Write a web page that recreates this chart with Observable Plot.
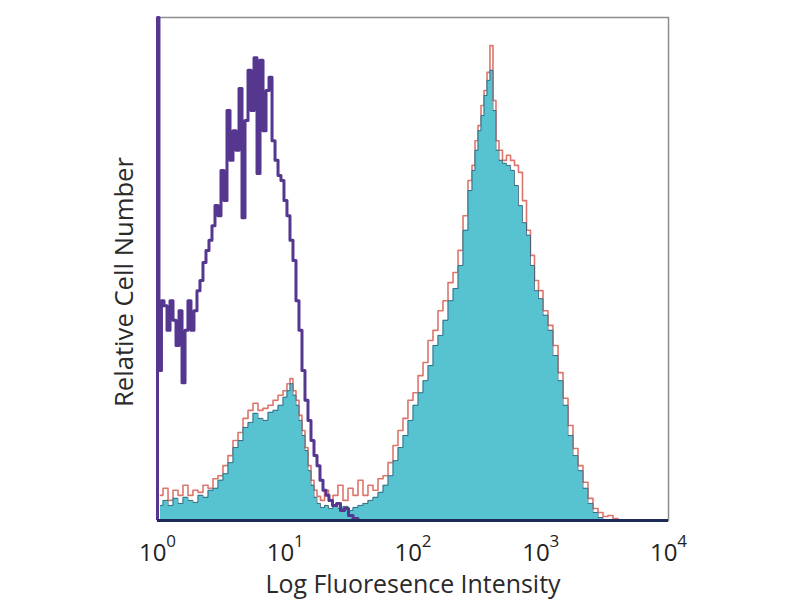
<!DOCTYPE html>
<html>
<head>
<meta charset="utf-8">
<script src="https://cdn.jsdelivr.net/npm/d3@7"></script>
<script src="https://cdn.jsdelivr.net/npm/@observablehq/plot@0.6"></script>
<style>
  html, body { margin: 0; padding: 0; background: #fff; }
  #chart { width: 800px; height: 600px; }
</style>
</head>
<body>
<div id="chart"></div>
<script>
// x values are log10 fluorescence (decades), y values relative cell number (0-100)
const decadeTicks = [0, 1, 2, 3, 4];
const xTitle = "Log Fluoresence Intensity";
const yTitle = "Relative Cell Number";

// Isotype control (purple outline)
const controlX = [0.000,0.023,0.039,0.063,0.086,0.110,0.133,0.157,0.180,0.204,0.227,0.250,0.274,0.297,0.321,0.344,0.368,0.391,0.415,0.438,0.462,0.485,0.509,0.532,0.556,0.579,0.603,0.626,0.650,0.673,0.697,0.720,0.744,0.767,0.791,0.814,0.838,0.861,0.885,0.908,0.932,0.955,0.978,1.002,1.025,1.049,1.072,1.096,1.119,1.143,1.166,1.190,1.213,1.237,1.260,1.284,1.307,1.331,1.354,1.386,1.417,1.448,1.479,1.511,1.550,1.589];
const controlY = [100,29.8,43.7,42.7,37.8,43.7,39.8,34.8,41.7,27.4,37.8,43.7,37.8,41.7,45.7,47.7,51.3,53.7,55.7,58.6,62.6,60.6,69.6,63.6,81.5,71.6,77.5,73.6,85.9,60.2,79.5,89.5,81.5,92.0,69.0,91.5,77.5,85.5,88.1,75.5,71.6,68.6,67.6,63.6,60.6,55.7,51.7,43.7,37.8,29.8,23.9,19.9,15.9,12.9,10.9,8.0,6.0,5.0,4.0,3.0,3.4,2.0,2.4,1.0,0.4,0];

// Stained samples (shared channels): teal filled and red outline
const stainX = [0.023,0.063,0.102,0.141,0.180,0.219,0.258,0.297,0.337,0.376,0.415,0.454,0.493,0.532,0.571,0.611,0.650,0.689,0.728,0.767,0.806,0.845,0.885,0.924,0.963,1.002,1.025,1.049,1.072,1.096,1.119,1.143,1.166,1.190,1.213,1.237,1.260,1.292,1.323,1.354,1.393,1.432,1.472,1.511,1.550,1.589,1.628,1.667,1.706,1.746,1.785,1.824,1.863,1.902,1.941,1.980,2.020,2.059,2.098,2.137,2.176,2.215,2.254,2.294,2.333,2.372,2.411,2.450,2.474,2.497,2.521,2.544,2.568,2.591,2.614,2.638,2.661,2.685,2.716,2.748,2.779,2.810,2.841,2.873,2.904,2.935,2.967,2.998,3.037,3.076,3.115,3.155,3.194,3.233,3.272,3.311,3.350,3.389,3.429,3.468,3.507,3.546,3.585,3.624];
const tealY = [3.0,4.0,3.0,4.4,3.4,4.6,4.0,3.6,5.0,4.6,6.0,6.4,8.0,9.3,11.5,14.5,15.9,18.5,19.5,21.3,20.3,19.9,21.5,21.9,22.9,24.5,25.8,27.2,24.9,22.9,19.9,16.9,13.9,9.9,7.0,4.6,3.4,2.6,3.0,2.4,3.0,2.4,2.8,2.0,2.6,3.0,3.4,4.0,4.6,5.6,7.0,8.9,11.9,14.5,16.9,19.9,22.9,25.4,27.8,30.8,34.8,36.8,39.8,43.7,46.1,50.7,57.7,65.6,69.6,73.6,77.5,80.5,84.5,87.5,89.5,81.5,73.6,71.6,71.0,70.6,69.6,66.6,62.6,59.2,56.7,50.7,45.7,44.1,40.8,37.8,32.8,27.8,22.9,16.9,12.9,9.9,6.4,3.4,1.6,0.6,0.2,0,0,0];
const redY = [5.0,6.4,4.0,6.0,5.0,7.0,5.0,6.0,5.6,7.0,6.4,8.3,8.9,10.9,12.9,15.9,17.5,20.3,21.9,23.3,21.9,22.3,22.9,23.9,24.9,25.8,27.2,28.2,25.8,23.9,20.9,17.9,14.5,10.9,8.0,6.0,4.8,4.0,6.0,4.0,5.0,7.0,4.0,6.4,5.0,8.0,5.0,7.0,6.0,8.3,8.9,11.5,14.9,17.9,20.3,23.9,25.4,28.8,31.4,35.8,37.8,41.7,43.7,47.3,49.3,53.7,60.6,67.6,70.6,75.5,78.5,82.5,85.5,89.1,94.4,83.5,75.5,73.6,71.6,72.6,71.6,70.6,69.2,63.6,57.7,52.7,47.7,45.7,41.7,38.8,34.8,29.4,24.3,18.9,14.3,10.9,7.6,4.4,2.4,1.6,0.8,1.0,0.4,0];

const control = controlX.map((x, i) => ({x, y: controlY[i]}));
const teal = stainX.map((x, i) => ({x, y: tealY[i]}));
const red = stainX.map((x, i) => ({x, y: redY[i]}));

const FONT = "'Open Sans', 'DejaVu Sans', sans-serif";

const chart = Plot.plot({
  width: 800,
  height: 600,
  marginLeft: 157,
  marginRight: 132,
  marginTop: 17,
  marginBottom: 80,
  style: {fontFamily: FONT, background: "#fff", overflow: "visible"},
  x: {domain: [0, 4], axis: null},
  y: {domain: [0, 100], axis: null},
  marks: [
    Plot.frame({stroke: "#8c8c8c", strokeWidth: 1.5}),
    Plot.line(red, {x: "x", y: "y", curve: "step", stroke: "#d8675c", strokeWidth: 1.6, strokeOpacity: 0.9}),
    Plot.areaY(teal, {x: "x", y: "y", curve: "step", fill: "#58c3d0"}),
    Plot.line(teal, {x: "x", y: "y", curve: "step", stroke: "#2e5a72", strokeWidth: 1, strokeOpacity: 0.8}),
    Plot.line(control, {x: "x", y: "y", curve: "step", stroke: "#56378f", strokeWidth: 3}),
    Plot.ruleX([control[0]], {x: "x", y1: 0, y2: "y", stroke: "#56378f", strokeWidth: 3}),
    Plot.ruleY([0], {stroke: "#1c2b57", strokeWidth: 3}),
    Plot.axisX({
      ticks: decadeTicks,
      tickSize: 0,
      tickPadding: 23,
      tickFormat: d => "10^" + d,
      fontSize: 24,
      fill: "#1e1e1e",
      label: null
    }),
    Plot.text([xTitle], {
      frameAnchor: "bottom", textAnchor: "middle", lineAnchor: "middle",
      dy: 64, fontSize: 25, fill: "#2a2a2a", fontFamily: FONT
    }),
    Plot.text([yTitle], {
      frameAnchor: "left", textAnchor: "middle", lineAnchor: "middle",
      dx: -33, dy: 13, rotate: -90, fontSize: 25, fill: "#2a2a2a", fontFamily: FONT
    })
  ]
});

// Render exponents as superscripts
d3.select(chart).selectAll("g[aria-label='x-axis tick label'] text").each(function() {
  const t = d3.select(this);
  const parts = t.text().split("^");
  if (parts.length === 2) {
    t.text(null);
    t.append("tspan").text(parts[0]);
    t.append("tspan").attr("font-size", 17).attr("dy", "-14").text(parts[1]);
  }
});

// Fit titles to the reference's lettering width
d3.select(chart).selectAll("text").each(function() {
  const t = d3.select(this);
  const s = t.text();
  if (s === xTitle) t.attr("textLength", 295).attr("lengthAdjust", "spacingAndGlyphs");
  if (s === yTitle) t.attr("textLength", 250).attr("lengthAdjust", "spacingAndGlyphs");
});

document.getElementById("chart").appendChild(chart);
</script>
</body>
</html>
